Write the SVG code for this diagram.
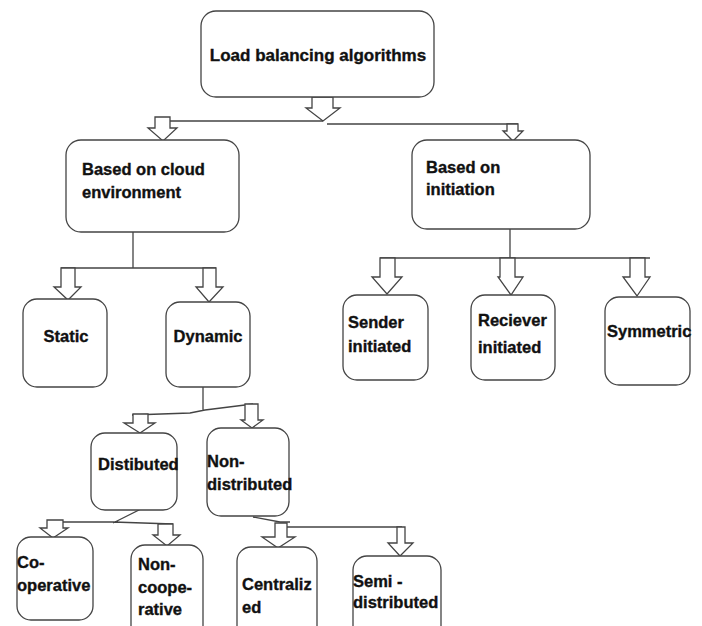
<svg xmlns="http://www.w3.org/2000/svg" width="702" height="626" viewBox="0 0 702 626">
<style>
.box{fill:#fff;stroke:#444;stroke-width:1.3}
.ln{fill:none;stroke:#444;stroke-width:1.3}
.ar{fill:#fff;stroke:#444;stroke-width:1.3;stroke-linejoin:miter}
text{font-family:"Liberation Sans",Arial,sans-serif;font-weight:bold;font-size:16.5px;fill:#111;stroke:#111;stroke-width:0.35}
</style>
<rect width="702" height="626" fill="#fff"/>
<g id="connectors">
<path class="ln" d="M157,121 H323 M327,124 H518"/>
<path class="ln" d="M133,232 V268 M61,268 H216"/>
<path class="ln" d="M510,229 V258 M380,258 H650"/>
<path class="ln" d="M203,387 V410 M132,415 L190,413 L205,410 L253,404"/>
<path class="ln" d="M143,508 L113,523 M50,522 H113 L173,524"/>
<path class="ln" d="M253,517 L280,522 H290 M277,527 H402"/>
<path class="ar" d="M312,97 H333 V108 H340 L323,121 L306,108 H312 Z"/>
<path class="ar" d="M155,117 H170 V128 H177 L163,141 L148,128 H155 Z"/>
<path class="ar" d="M507,124 H518 V131 H523 L513,141 L503,131 H507 Z"/>
<path class="ar" d="M61,268 H75 V287 H81 L68,300 L54,287 H61 Z"/>
<path class="ar" d="M203,268 H216 V287 H223 L209,302 L196,287 H203 Z"/>
<path class="ar" d="M380,258 H395 V277 H402 L387,294 L372,277 H380 Z"/>
<path class="ar" d="M500,258 H515 V277 H523 L511,295 L498,277 H500 Z"/>
<path class="ar" d="M630,258 H645 V277 H650 L637,296 L623,277 H630 Z"/>
<path class="ar" d="M133,414 H148 V423 H155 L140,433 L124,423 H133 Z"/>
<path class="ar" d="M245,404 H258 V420 H263 L252,428 L241,420 H245 Z"/>
<path class="ar" d="M47,520 H63 V528 H68 L53,538 L40,528 H47 Z"/>
<path class="ar" d="M158,524 H173 V535 H180 L167,546 L153,535 H158 Z"/>
<path class="ar" d="M275,523 H287 V537 H295 L278,548 L262,537 H275 Z"/>
<path class="ar" d="M397,527 H405 V543 H413 L400,556 L388,543 H397 Z"/>
</g>
<g id="root"><rect class="box" x="201" y="11" width="233" height="86" rx="15"/><text x="318" y="61" text-anchor="middle" style="font-size:17px">Load balancing algorithms</text></g>
<g id="cloud"><rect class="box" x="66" y="140" width="173" height="92" rx="15"/><text x="82" y="175">Based on cloud</text><text x="82" y="198">environment</text></g>
<g id="initiation"><rect class="box" x="412" y="140" width="178" height="89" rx="15"/><text x="426" y="173">Based on</text><text x="426" y="195">initiation</text></g>
<g id="static"><rect class="box" x="23" y="299" width="84" height="88" rx="14"/><text x="66" y="342" text-anchor="middle">Static</text></g>
<g id="dynamic"><rect class="box" x="166" y="302" width="84" height="85" rx="14"/><text x="208" y="342" text-anchor="middle">Dynamic</text></g>
<g id="sender"><rect class="box" x="343" y="295" width="85" height="85" rx="14"/><text x="348" y="328">Sender</text><text x="348" y="352">initiated</text></g>
<g id="receiver"><rect class="box" x="471" y="295" width="84" height="85" rx="14"/><text x="478" y="326">Reciever</text><text x="478" y="353">initiated</text></g>
<g id="symmetric"><rect class="box" x="605" y="297" width="85" height="88" rx="14"/><text x="607" y="337">Symmetric</text></g>
<g id="distributed"><rect class="box" x="91" y="433" width="86" height="77" rx="14"/><text x="98" y="470">Distibuted</text></g>
<g id="nondistributed"><rect class="box" x="207" y="428" width="82" height="88" rx="14"/><text x="207" y="467">Non-</text><text x="207" y="490">distributed</text></g>
<g id="cooperative"><rect class="box" x="17" y="537" width="76" height="83" rx="14"/><text x="17" y="568">Co-</text><text x="17" y="591">operative</text></g>
<g id="noncooperative"><rect class="box" x="131" y="545" width="72" height="100" rx="14"/><text x="138" y="570">Non-</text><text x="138" y="593">coope-</text><text x="138" y="615">rative</text></g>
<g id="centralized"><rect class="box" x="237" y="547" width="80" height="100" rx="14"/><text x="242" y="590">Centraliz</text><text x="242" y="613">ed</text></g>
<g id="semidistributed"><rect class="box" x="353" y="556" width="88" height="90" rx="14"/><text x="353" y="587">Semi -</text><text x="353" y="608">distributed</text></g>
</svg>
